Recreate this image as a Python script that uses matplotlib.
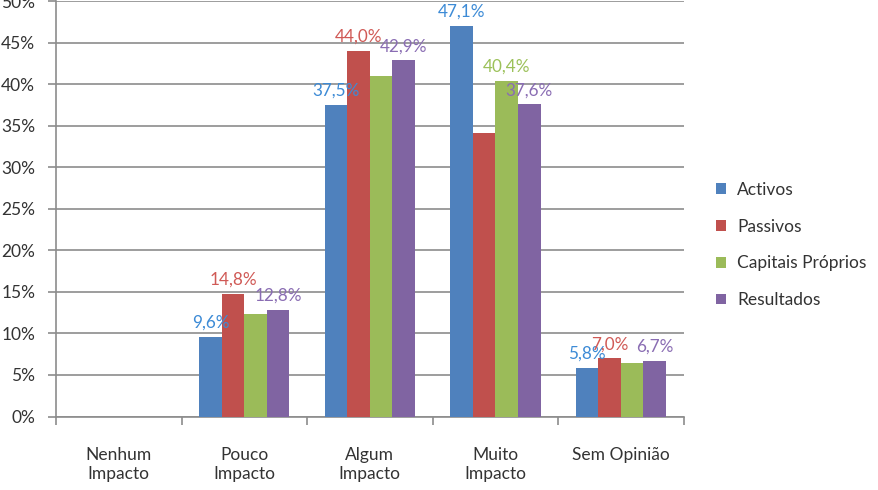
import matplotlib.pyplot as plt
import numpy as np
from matplotlib.ticker import MultipleLocator, FixedLocator, PercentFormatter

plt.rcParams['font.family'] = ['Lato', 'DejaVu Sans']

categories = ["Nenhum\nImpacto", "Pouco\nImpacto", "Algum\nImpacto", "Muito\nImpacto", "Sem Opinião"]
series = ["Activos", "Passivos", "Capitais Próprios", "Resultados"]

activos = [0.0, 9.6, 37.5, 47.1, 5.8]
passivos = [0.0, 14.8, 44.0, 34.1, 7.0]
capitais = [0.0, 12.3, 41.0, 40.4, 6.4]
resultados = [0.0, 12.8, 42.9, 37.6, 6.7]

# which values carry a data label in the original
show_activos = [False, True, True, True, True]
show_passivos = [False, True, True, False, True]
show_capitais = [False, False, False, True, False]
show_resultados = [False, True, True, True, True]

values = [activos, passivos, capitais, resultados]
shows = [show_activos, show_passivos, show_capitais, show_resultados]
colors = ["#4F81BD", "#C0504D", "#9BBB59", "#8064A2"]
label_colors = ["#3D8BD6", "#D05A56", "#9CC15A", "#8A6DB3"]

fig = plt.figure(figsize=(8.79, 4.90), dpi=100)
ax = fig.add_axes([0.0637, 0.15, 0.714, 0.847])

x = np.arange(len(categories))
w = 0.18
for i, (vals, col) in enumerate(zip(values, colors)):
    pos = x + (i - 1.5) * w
    ax.bar(pos, vals, width=w, color=col, label=series[i], zorder=3)
    for p, v, s in zip(pos, vals, shows[i]):
        if s:
            ax.annotate(f"{v:.1f}%".replace(".", ","), (p, v), xytext=(0, 4.5),
                        textcoords="offset points", ha="center", va="bottom",
                        color=label_colors[i], fontsize=12.3, zorder=4)

ax.set_xlim(-0.5, 4.5)
ax.set_ylim(0, 50)
ax.yaxis.set_major_locator(MultipleLocator(5))
ax.yaxis.set_major_formatter(PercentFormatter(decimals=0))
ax.grid(axis="y", color="#8c8c8c", linewidth=1.2, zorder=0)

ax.set_xticks(x)
ax.set_xticklabels(categories, fontsize=12.5, color="#333333", linespacing=1.25, va="top")
ax.xaxis.set_minor_locator(FixedLocator(np.arange(-0.5, 5.0, 1.0)))
ax.tick_params(axis="x", which="major", length=0, pad=22)
ax.tick_params(axis="x", which="minor", length=6, color="#8c8c8c", width=1.2)
ax.tick_params(axis="y", length=6, color="#8c8c8c", width=1.2, pad=9,
               labelsize=12.5, labelcolor="#333333")

for side in ["top", "right"]:
    ax.spines[side].set_visible(False)
for side in ["left", "bottom"]:
    ax.spines[side].set_color("#8c8c8c")
    ax.spines[side].set_linewidth(1.2)

leg = fig.legend(loc="center left", bbox_to_anchor=(0.815, 0.50), frameon=False,
                 fontsize=12.5, handlelength=0.55, handleheight=0.55,
                 handletextpad=0.65, labelspacing=1.2, borderpad=0, borderaxespad=0)
for t in leg.get_texts():
    t.set_color("#333333")

fig.savefig("out.png", dpi=100)
